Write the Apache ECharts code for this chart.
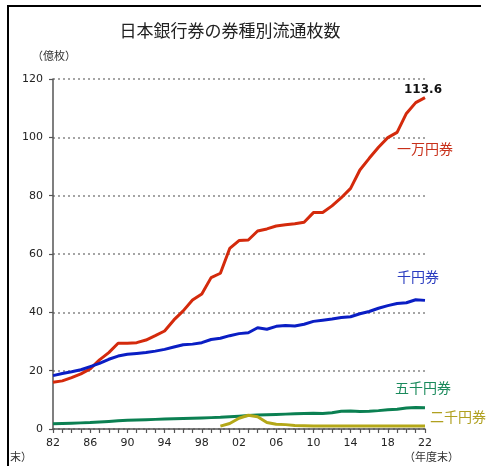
<!DOCTYPE html>
<html><head><meta charset="utf-8">
<script src="https://cdn.jsdelivr.net/npm/echarts@6/dist/echarts.min.js"></script>
<style>html,body{margin:0;padding:0;background:#fff}#c{width:486px;height:466px}</style>
</head><body><div id="c"></div>
<script>
const years = [];
for (let y = 1982; y <= 2022; y++) years.push(String(y));
const yTicks = [0, 20, 40, 60, 80, 100, 120];
const yen10000 = [16.0,16.5,17.6,18.9,20.6,23.7,26.2,29.4,29.4,29.6,30.5,32.0,33.6,37.4,40.5,44.2,46.3,51.9,53.4,61.9,64.6,64.8,67.9,68.6,69.6,70.0,70.4,70.9,74.2,74.2,76.5,79.3,82.5,88.8,92.8,96.6,99.9,101.7,108.2,111.9,113.6];
const yen1000 = [18.3,19.0,19.6,20.3,21.4,22.5,23.9,25.0,25.6,25.9,26.2,26.7,27.3,28.1,28.9,29.1,29.6,30.7,31.1,32.0,32.7,33.0,34.7,34.2,35.2,35.5,35.3,35.9,36.9,37.3,37.7,38.2,38.5,39.5,40.3,41.4,42.3,43.0,43.3,44.3,44.1];
const yen5000 = [1.8,1.9,2.0,2.1,2.2,2.4,2.6,2.8,3.0,3.1,3.2,3.3,3.4,3.5,3.6,3.7,3.8,3.9,4.0,4.2,4.4,4.6,4.8,4.9,5.0,5.1,5.2,5.3,5.4,5.3,5.6,6.1,6.2,6.0,6.1,6.3,6.6,6.8,7.2,7.4,7.3];
const yen2000 = [null,null,null,null,null,null,null,null,null,null,null,null,null,null,null,null,null,null,1.0,1.9,3.7,4.7,4.2,2.2,1.6,1.5,1.2,1.1,1.0,1.0,1.0,1.0,1.0,1.0,1.0,1.0,1.0,1.0,1.0,1.0,1.0];
const lastLabel = '113.6';

const chart = echarts.init(document.getElementById('c'));
const font = '"Noto Sans CJK JP", sans-serif';
function line(name, data, color, lastLbl) {
  const s = {
    name, type: 'line', data,
    symbol: 'none', smooth: false, connectNulls: false,
    lineStyle: {color, width: 3}, z: 3
  };
  if (lastLbl) {
    s.endLabel = {show: true, formatter: lastLbl, align: 'center', verticalAlign: 'bottom',
      offset: [-10, -2], fontFamily: 'DejaVu Sans', fontWeight: 'bold', fontSize: 12, color: '#111'};
  }
  return s;
}
chart.setOption({
  animation: false,
  grid: {left: 53, right: 61, top: 79, bottom: 37, containLabel: false},
  xAxis: {
    type: 'category', data: years, boundaryGap: false,
    axisLine: {lineStyle: {color: '#555', width: 1.5}},
    axisTick: {show: true, interval: 0, length: 4, inside: false, lineStyle: {color: '#555', width: 1.2}},
    axisLabel: {interval: 3, margin: 9, color: '#222', fontFamily: 'DejaVu Sans', fontSize: 11,
      formatter: v => v.slice(2)},
    splitLine: {show: false}
  },
  yAxis: {
    type: 'value', min: 0, max: 120, interval: 20,
    axisLine: {show: true, lineStyle: {color: '#555', width: 1.5}},
    axisTick: {show: true, length: 4, lineStyle: {color: '#555', width: 1.2}},
    axisLabel: {margin: 10, color: '#222', fontFamily: 'DejaVu Sans', fontSize: 11,
      formatter: v => yTicks.includes(v) ? String(v) : ''},
    splitLine: {show: true, lineStyle: {color: '#888', width: 1.5, type: [2, 3]}}
  },
  series: [
    line('一万円券', yen10000, '#d42a0c', lastLabel),
    line('千円券', yen1000, '#0a1ec4'),
    line('五千円券', yen5000, '#0b8052'),
    line('二千円券', yen2000, '#b4a818')
  ],
  graphic: [
    {type: 'rect', shape: {x: 7, y: 5, width: 474, height: 2}, style: {fill: '#000'}},
    {type: 'rect', shape: {x: 7, y: 5, width: 2, height: 461}, style: {fill: '#000'}},
    {type: 'text', x: 230, y: 22, style: {text: '日本銀行券の券種別流通枚数', font: '17px ' + font, fill: '#222', textAlign: 'center'}},
    {type: 'text', x: 32, y: 50, style: {text: '（億枚）', font: '11px ' + font, fill: '#333'}},
    {type: 'text', x: 397, y: 142, style: {text: '一万円券', font: '14px ' + font, fill: '#c8301a'}},
    {type: 'text', x: 397, y: 270, style: {text: '千円券', font: '14px ' + font, fill: '#2a3cc0'}},
    {type: 'text', x: 395, y: 381, style: {text: '五千円券', font: '14px ' + font, fill: '#1a8a5c'}},
    {type: 'text', x: 430, y: 410, style: {text: '二千円券', font: '14px ' + font, fill: '#b0a020'}},
    {type: 'text', x: 404, y: 451, style: {text: '（年度末）', font: '11px ' + font, fill: '#333'}},
    {type: 'text', x: 10, y: 451, style: {text: '末）', font: '11px ' + font, fill: '#333'}}
  ]
});
</script></body></html>
